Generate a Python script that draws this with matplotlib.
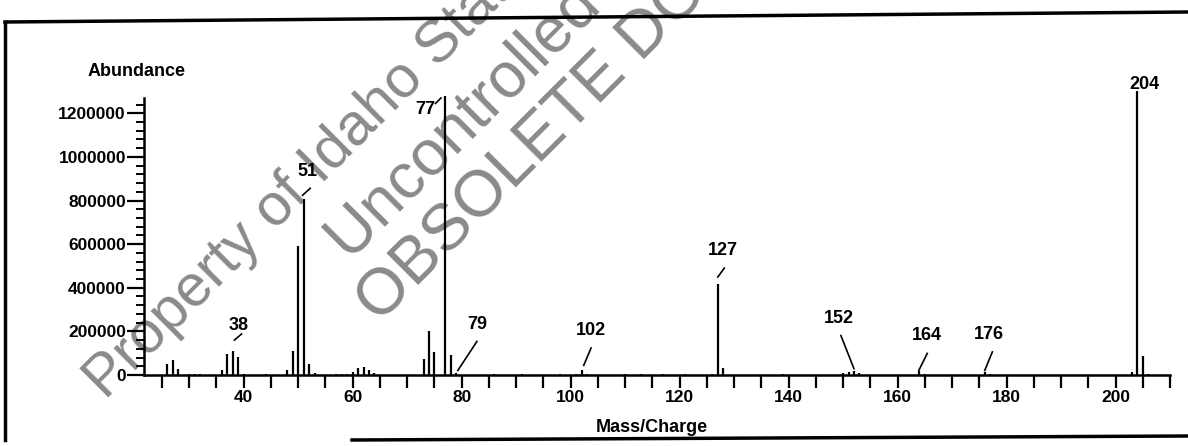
import matplotlib
matplotlib.use("Agg")
import matplotlib.pyplot as plt
from matplotlib.lines import Line2D
from matplotlib.ticker import MultipleLocator, FixedLocator, NullFormatter

plt.rcParams['font.family'] = ['Liberation Sans', 'DejaVu Sans']

# ---- data (m/z and abundance) ----
mz = [26, 27, 28, 30, 31, 32, 36, 37, 38, 39, 40, 44, 48, 49, 50, 51, 52, 53,
      57, 58, 59, 60, 61, 62, 63, 64, 73, 74, 75, 77, 78, 79,
      86, 91, 98, 101, 102, 103, 110, 113, 117, 121, 126, 127, 128,
      139, 150, 151, 152, 153, 164, 165, 176, 177, 203, 204, 205, 206]
abundance = [49000, 70000, 26000, 4000, 5000, 4000, 21000, 98000, 109000, 84000, 5000, 5000,
             23000, 110000, 590000, 808000, 49000, 8000,
             3000, 3000, 3000, 14000, 34000, 35000, 23000, 8000,
             72000, 203000, 105000, 1280000, 92000, 8000,
             3000, 4000, 3000, 4000, 22000, 4000, 3000, 4000, 3000, 4000, 6000, 415000, 30000,
             5000, 8000, 14000, 20000, 8000, 18000, 5000, 14000, 5000, 12000, 1300000, 85000, 6000]

labelled_mz = [38, 51, 77, 79, 102, 127, 152, 164, 176, 204]
x_tick_labels = [40, 60, 80, 100, 120, 140, 160, 180, 200]
y_tick_values = [0, 200000, 400000, 600000, 800000, 1000000, 1200000]

# ---- layout ----
W, H = 1188, 446
fig = plt.figure(figsize=(W / 100, H / 100), dpi=100)
ax = fig.add_axes([144 / W, (H - 375) / H, 1026 / W, 277 / H])
ax.patch.set_visible(False)
ax.set_xlim(21.7, 210)
ax.set_ylim(0, 1270000)

peaks = ax.vlines(mz, 0, abundance, colors='black', linewidth=1.6)
peaks.set_clip_on(False)

for s in ['top', 'right']:
    ax.spines[s].set_visible(False)
for s in ['left', 'bottom']:
    ax.spines[s].set_linewidth(1.8)

ax.xaxis.set_major_locator(FixedLocator(x_tick_labels))
ax.set_xticklabels([str(v) for v in x_tick_labels])
ax.xaxis.set_minor_locator(MultipleLocator(5))
ax.tick_params(axis='x', which='both', direction='out', length=9, width=1.6,
               labelsize=12.5, pad=2)
ax.yaxis.set_major_locator(FixedLocator(y_tick_values))
ax.set_yticklabels([str(v) for v in y_tick_values])
ax.yaxis.set_minor_locator(MultipleLocator(40000))
ax.yaxis.set_minor_formatter(NullFormatter())
ax.tick_params(axis='y', which='major', direction='out', length=12, width=1.6,
               labelsize=12.5, pad=1)
ax.tick_params(axis='y', which='minor', direction='out', length=6, width=1.4)
for lab in ax.get_xticklabels() + ax.get_yticklabels():
    lab.set_fontweight('bold')

# peak labels: (text x, text y, leader start x, y, leader end x, y) in data units
label_pos = {
    38: (39.0, 229000, 38.3, 160000, 39.6, 188000),
    51: (51.75, 934000, 50.8, 824000, 52.2, 856000),
    77: (73.3, 1217000, 75.2, 1245000, 76.2, 1270000),
    79: (82.9, 232000, 79.3, 21000, 82.8, 154000),
    102: (103.8, 202000, 102.4, 44000, 103.75, 124000),
    127: (128.0, 572000, 127.0, 449000, 128.2, 490000),
    152: (149.3, 259000, 152.0, 29000, 149.6, 181000),
    164: (165.3, 179000, 163.9, 21000, 165.45, 99000),
    176: (176.7, 186000, 176.0, 21000, 177.4, 106000),
    204: (205.3, 1332000, 204, 1240000, 204, 1240000),
}
for m in labelled_mz:
    tx, ty, x0, y0, x1, y1 = label_pos[m]
    ax.text(tx, ty, str(m), ha='center', va='center', fontsize=13,
            fontweight='bold', clip_on=False)
    ax.plot([x0, x1], [y0, y1], color='black', linewidth=1.2, clip_on=False)

fig.text(137 / W, 1 - 72 / H, 'Abundance', ha='center', va='center',
         fontsize=13, fontweight='bold')
fig.text(652 / W, 1 - 428 / H, 'Mass/Charge', ha='center', va='center',
         fontsize=13, fontweight='bold')

# page border
fig.add_artist(Line2D([5 / W, 5 / W], [1 - 440 / H, 1 - 22 / H], color='black', lw=2.5))
fig.add_artist(Line2D([5 / W, 1.0], [1 - 22 / H, 1 - 12 / H], color='black', lw=2.5))
fig.add_artist(Line2D([352 / W, 1.0], [1 - 440 / H, 1 - 436 / H], color='black', lw=2.5))

# watermark (cut by the page edge as in the scan)
wm_color = '#8a8a8a'
for txt, (px, py), size in [('Property of Idaho Stat', (106, 401), 42.5),
                            ('Uncontrolled D', (350, 262), 46),
                            ('OBSOLETE DO', (380, 325), 47)]:
    fig.text(px / W, 1 - py / H, txt, rotation=45, rotation_mode='anchor',
             ha='left', va='baseline', fontsize=size, color=wm_color, zorder=-1)

fig.savefig('out.png', dpi=100)
